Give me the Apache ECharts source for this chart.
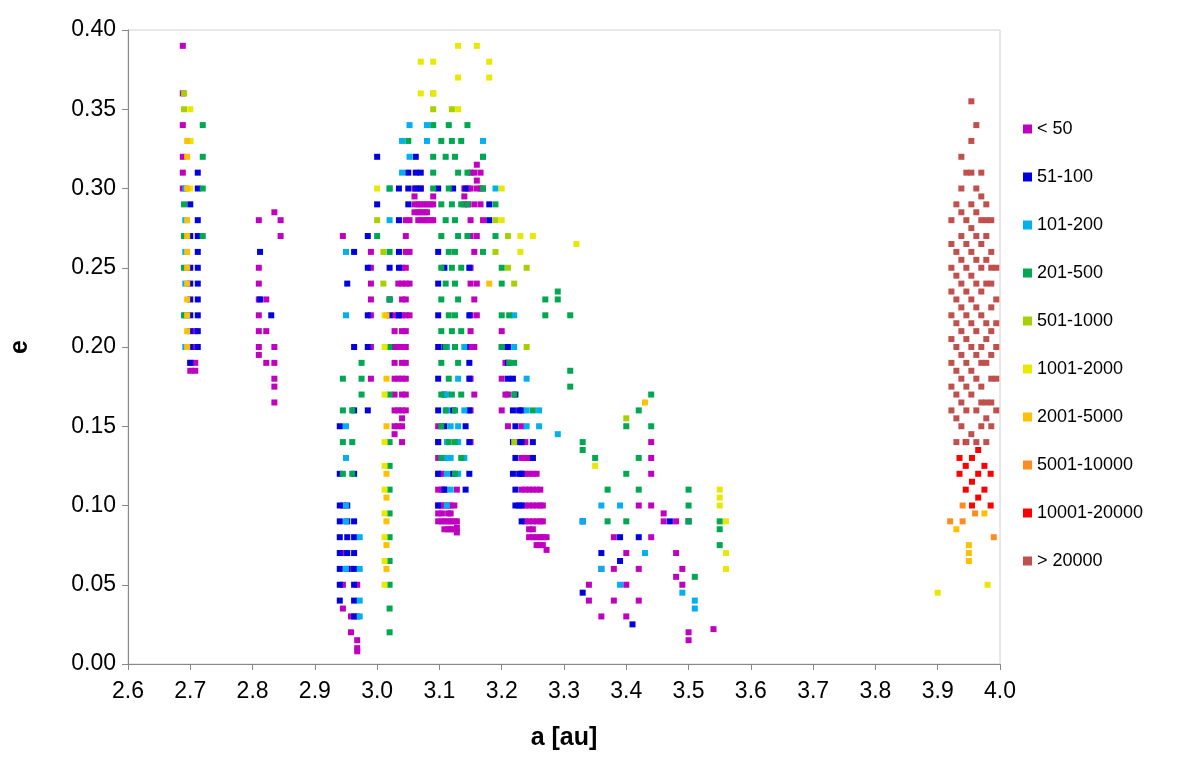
<!DOCTYPE html>
<html><head><meta charset="utf-8">
<script src="https://cdn.jsdelivr.net/npm/echarts@6/dist/echarts.min.js"></script>
<style>html,body{margin:0;padding:0;background:#fff}#c{width:1200px;height:777px}</style>
</head><body><div id="c"></div>
<script>
const seriesNames = ['< 50','51-100','101-200','201-500','501-1000','1001-2000','2001-5000','5001-10000','10001-20000','> 20000'];
const xTicks = [2.6,2.7,2.8,2.9,3.0,3.1,3.2,3.3,3.4,3.5,3.6,3.7,3.8,3.9,4.0];
// each entry: [a, [e values at that a]]
const lt50 = [
 [2.688,[0.39,0.36,0.34,0.32,0.31,0.30]],[2.700,[0.19,0.185,0.2]],[2.708,[0.185,0.19,0.2,0.21]],
 [2.810,[0.28,0.25,0.24,0.23,0.22,0.21,0.20,0.195]],[2.822,[0.23,0.21,0.19]],[2.835,[0.285,0.20,0.19,0.18,0.175,0.165]],[2.845,[0.28,0.27]],
 [2.945,[0.27,0.10,0.07,0.05,0.035]],[2.958,[0.03,0.02,0.06]],[2.968,[0.01,0.008,0.05,0.03,0.015]],
 [2.990,[0.26,0.24,0.22,0.20,0.18,0.25,0.23]],[3.028,[0.22,0.20,0.18,0.16,0.15,0.145,0.21,0.19,0.17]],
 [3.034,[0.24,0.22,0.20,0.18,0.16,0.15]],[3.040,[0.25,0.23,0.21,0.19,0.17,0.155,0.15,0.14,0.24,0.22,0.20,0.18,0.16]],
 [3.046,[0.28,0.26,0.24,0.22,0.20,0.18,0.16,0.27,0.25,0.23,0.21,0.19,0.17]],[3.052,[0.28,0.26,0.24,0.22]],
 [3.060,[0.30,0.29,0.285,0.295]],[3.066,[0.29,0.285,0.28]],[3.070,[0.29,0.285,0.28,0.30]],[3.076,[0.285,0.28,0.29]],[3.080,[0.285,0.28,0.29]],
 [3.086,[0.28,0.29]],[3.090,[0.29,0.28,0.295]],[3.098,[0.10,0.095,0.09,0.12,0.15,0.13,0.11,0.14]],[3.104,[0.09,0.095,0.1,0.11,0.12]],
 [3.108,[0.09,0.085,0.10,0.11]],[3.114,[0.09,0.085,0.095,0.1]],[3.118,[0.085,0.09,0.1,0.095]],[3.124,[0.085,0.09,0.1]],
 [3.128,[0.083,0.09,0.11,0.086]],[3.140,[0.30,0.29,0.295]],[3.146,[0.30,0.29]],[3.150,[0.31,0.30,0.28,0.25,0.22,0.20,0.18,0.16,0.14,0.27,0.24,0.21]],
 [3.156,[0.31,0.29,0.26,0.23,0.20,0.17]],[3.160,[0.315,0.30,0.27,0.24,0.22,0.305]],[3.166,[0.31,0.30,0.29]],[3.170,[0.30,0.28]],
 [3.200,[0.21,0.20,0.18,0.16]],[3.206,[0.20,0.19,0.17]],[3.210,[0.19,0.17,0.15]],
 [3.232,[0.15,0.13,0.11,0.12,0.14]],[3.238,[0.14,0.12,0.10,0.11,0.13,0.09]],[3.244,[0.13,0.11,0.09,0.08,0.12,0.10,0.085]],
 [3.250,[0.12,0.10,0.08,0.09,0.11,0.13,0.085]],[3.256,[0.12,0.10,0.08,0.075,0.09,0.11]],[3.262,[0.11,0.09,0.08,0.075,0.10]],
 [3.266,[0.08,0.075,0.09,0.1]],[3.272,[0.072,0.08]],
 [3.340,[0.04,0.05]],[3.360,[0.06,0.03]],[3.380,[0.08,0.06,0.04]],[3.400,[0.07,0.03,0.05]],[3.420,[0.10,0.06,0.04]],
 [3.440,[0.14,0.12,0.10,0.08,0.13]],[3.460,[0.095,0.09]],[3.480,[0.09,0.07,0.055]],[3.490,[0.06,0.05]],[3.500,[0.02,0.015]],[3.540,[0.022]]
];
const n51to100 = [
 [2.700,[0.19,0.21,0.23,0.25,0.27,0.29,0.20,0.22,0.24]],[2.712,[0.20,0.22,0.24,0.26,0.28,0.30,0.31,0.21,0.23,0.25,0.27]],
 [2.812,[0.23,0.26]],[2.830,[0.22]],
 [2.940,[0.04,0.06,0.08,0.10,0.12,0.15,0.05,0.07,0.09]],[2.952,[0.06,0.10,0.24,0.08,0.07,0.09]],
 [2.963,[0.03,0.06,0.09,0.12,0.16,0.20,0.26,0.04,0.05,0.07,0.08]],
 [2.985,[0.16,0.22,0.27,0.20,0.25]],[3.000,[0.29,0.32]],[3.020,[0.22,0.20,0.25,0.23]],[3.035,[0.25,0.22,0.30,0.28,0.26]],[3.050,[0.29,0.31,0.30]],
 [3.062,[0.31,0.32,0.30]],[3.070,[0.31,0.30]],[3.098,[0.10,0.14,0.18,0.22,0.26,0.30,0.12,0.16,0.20,0.24]],[3.108,[0.11,0.15,0.20,0.25,0.13,0.17]],
 [3.122,[0.30,0.12,0.16]],[3.142,[0.30,0.20,0.15,0.11]],
 [3.148,[0.25,0.22,0.19,0.16,0.12,0.14,0.18]],[3.180,[0.29,0.28]],[3.210,[0.20,0.18,0.19]],[3.218,[0.18,0.16,0.14,0.12]],
 [3.222,[0.17,0.15,0.13,0.11,0.10]],[3.228,[0.16,0.14,0.12,0.10]],
 [3.232,[0.16,0.14,0.12,0.10,0.09]],[3.250,[0.14,0.13]],
 [3.330,[0.045,0.09]],[3.360,[0.07]],[3.390,[0.08,0.065]],[3.410,[0.025]],[3.420,[0.08]],[3.470,[0.09]],[3.500,[0.09]]
];
const n101to200 = [
 [2.692,[0.20,0.22,0.24,0.26,0.28,0.30]],[2.950,[0.26,0.22,0.15,0.10,0.13,0.09,0.06]],[2.972,[0.08,0.04,0.06,0.03]],
 [3.020,[0.30,0.28]],[3.040,[0.33,0.31]],[3.052,[0.34,0.32]],[3.080,[0.34,0.33]],[3.112,[0.20,0.17,0.14,0.12,0.10,0.16,0.13]],
 [3.118,[0.15,0.13,0.11]],[3.130,[0.15,0.12,0.18,0.14]],[3.140,[0.20,0.13,0.16]],[3.170,[0.33,0.32]],[3.190,[0.30]],[3.220,[0.22,0.20]],[3.240,[0.18,0.15,0.16]],
 [3.260,[0.16,0.15]],[3.290,[0.145]],[3.330,[0.09]],[3.360,[0.10,0.06]],[3.390,[0.05,0.10]],[3.430,[0.07]],
 [3.490,[0.045]],[3.510,[0.04,0.035]]
];
const n201to500 = [
 [2.690,[0.29,0.27,0.25,0.22]],[2.720,[0.34,0.32,0.30,0.27]],[2.945,[0.18,0.14,0.12,0.16]],[2.960,[0.16,0.12,0.14]],
 [2.975,[0.17,0.19,0.18]],[3.000,[0.27]],[3.020,[0.02,0.05,0.08,0.11,0.14,0.17,0.20,0.23,0.26,0.30,0.035,0.065,0.095,0.125]],[3.050,[0.33]],
 [3.090,[0.34,0.32,0.30,0.31]],[3.103,[0.13,0.17,0.21,0.25,0.29,0.33,0.15,0.19,0.23,0.27]],[3.110,[0.16,0.20,0.24,0.28,0.32]],
 [3.115,[0.14,0.18,0.22,0.26,0.30,0.34]],[3.120,[0.17,0.21,0.25,0.29,0.33]],
 [3.125,[0.12,0.16,0.20,0.24,0.28,0.32,0.14,0.22,0.26]],[3.130,[0.19,0.23,0.27,0.31]],[3.135,[0.13,0.17,0.21,0.25,0.29,0.33]],[3.145,[0.27,0.31,0.34,0.29]],
 [3.170,[0.30,0.32,0.26]],[3.190,[0.27,0.29]],[3.200,[0.25,0.22,0.20,0.24]],[3.212,[0.22,0.19]],[3.220,[0.19,0.17]],[3.250,[0.16]],[3.270,[0.23,0.22]],
 [3.290,[0.23,0.235]],[3.310,[0.185,0.175,0.22]],[3.330,[0.14,0.135]],[3.350,[0.13]],[3.370,[0.11,0.09]],
 [3.400,[0.15,0.12,0.09]],[3.420,[0.16,0.13,0.11]],[3.440,[0.17,0.15]],[3.500,[0.11,0.10,0.09]],[3.510,[0.055]],
 [3.550,[0.09,0.085,0.075]]
];
const n501to1000 = [
 [2.690,[0.36,0.35]],[2.700,[0.33]],[3.000,[0.28]],[3.010,[0.26,0.24]],[3.090,[0.36,0.35]],[3.120,[0.35]],
 [3.190,[0.28,0.26]],[3.210,[0.27,0.25]],[3.220,[0.24,0.14]],[3.240,[0.25,0.20]],[3.400,[0.155]]
];
const n1001to2000 = [
 [2.700,[0.35,0.33,0.30]],[3.000,[0.30]],[3.012,[0.05,0.08,0.11,0.14,0.17,0.20,0.22,0.065,0.095,0.125]],[3.070,[0.36,0.38]],
 [3.090,[0.38,0.36]],[3.130,[0.39,0.37,0.35]],[3.160,[0.39]],[3.180,[0.37,0.38]],[3.200,[0.30,0.28]],
 [3.230,[0.26,0.27]],[3.250,[0.27]],[3.320,[0.265]],[3.350,[0.125]],[3.550,[0.11,0.105,0.10]],
 [3.560,[0.09,0.07,0.06]],[3.900,[0.045]],[3.980,[0.05]]
];
const n2001to5000 = [
 [2.695,[0.20,0.22,0.24,0.26,0.28,0.30,0.32,0.33,0.21,0.23,0.25,0.27]],[3.015,[0.06,0.09,0.12,0.15,0.18,0.22,0.075,0.105]],[3.180,[0.24]],
 [3.430,[0.165]],[3.930,[0.085]],[3.950,[0.07,0.075,0.065]],[3.975,[0.095]]
];
const n5001to10000 = [[3.920,[0.09]],[3.940,[0.09,0.10]],[3.960,[0.095]],[3.990,[0.08]]];
const n10001to20000 = [
 [3.935,[0.12,0.13]],[3.945,[0.11,0.125,0.14]],[3.955,[0.10,0.115,0.13]],[3.965,[0.105,0.12,0.135]],
 [3.975,[0.11,0.125]],[3.985,[0.10,0.12]]
];
const gt20000 = [
 [3.922,[0.16,0.19,0.22,0.25,0.28,0.175,0.205,0.235,0.265]],[3.930,[0.14,0.17,0.20,0.23,0.26,0.29,0.155,0.185,0.215,0.245]],
 [3.938,[0.15,0.18,0.21,0.24,0.27,0.30,0.32,0.165,0.195,0.225,0.255,0.285]],[3.946,[0.14,0.16,0.19,0.22,0.25,0.28,0.31,0.175,0.205,0.235,0.265]],
 [3.954,[0.145,0.17,0.20,0.23,0.26,0.29,0.33,0.355,0.185,0.215,0.245,0.275,0.31]],[3.962,[0.14,0.16,0.18,0.21,0.24,0.27,0.30,0.34,0.195,0.225,0.255,0.285]],
 [3.970,[0.15,0.175,0.20,0.22,0.25,0.28,0.31,0.165,0.19,0.235,0.265,0.295]],[3.978,[0.14,0.165,0.19,0.215,0.24,0.27,0.29,0.155,0.205,0.255,0.28]],
 [3.986,[0.15,0.18,0.21,0.24,0.26,0.28,0.165,0.195,0.225,0.25]],[3.994,[0.16,0.20,0.23,0.25,0.18,0.215]]
];
const groups = [lt50,n51to100,n101to200,n201to500,n501to1000,n1001to2000,n2001to5000,n5001to10000,n10001to20000,gt20000];
const colors = ['#C000C0','#0000E0','#00B0F0','#00A850','#A8D000','#E8E800','#FFC000','#FF8C20','#FF0000','#C0504D'];
function flat(g){const o=[];g.forEach(([a,es])=>es.forEach(e=>o.push([a,e])));return o;}
const chart = echarts.init(document.getElementById('c'));
chart.setOption({
 animation:false,
 grid:{left:127,right:200,top:30,bottom:113,show:true,borderColor:'#d0d0d0',borderWidth:1},
 legend:{orient:'vertical',left:1018,top:115,itemWidth:9,itemHeight:9,itemGap:30,icon:'rect',
   textStyle:{fontSize:18,fontFamily:'Liberation Sans, Arial',color:'#000'},data:seriesNames},
 xAxis:{type:'value',min:2.6,max:4.0,interval:0.1,name:'a [au]',nameLocation:'middle',nameGap:62,
   nameTextStyle:{fontSize:25,fontWeight:'bold',fontFamily:'Liberation Sans, Arial',color:'#000'},
   axisLine:{lineStyle:{color:'#888'}},axisTick:{show:true,lineStyle:{color:'#888'},length:6},
   axisLabel:{fontSize:23,color:'#000',margin:16,fontFamily:'Liberation Sans, Arial',formatter:v=>v.toFixed(1)},splitLine:{show:false}},
 yAxis:{type:'value',min:0,max:0.4,interval:0.05,name:'e',nameLocation:'middle',nameGap:95,nameRotate:90,
   nameTextStyle:{fontSize:25,fontWeight:'bold',fontFamily:'Liberation Sans, Arial',color:'#000'},
   axisLine:{show:true,lineStyle:{color:'#888'}},axisTick:{show:true,lineStyle:{color:'#888'},length:6},
   axisLabel:{fontSize:23,color:'#000',margin:12,fontFamily:'Liberation Sans, Arial',formatter:v=>v.toFixed(2)},splitLine:{show:false}},
 series:groups.map((g,i)=>({name:seriesNames[i],type:'scatter',symbol:'rect',symbolSize:6,
   itemStyle:{color:colors[i],opacity:1},data:flat(g)}))
});
</script></body></html>
